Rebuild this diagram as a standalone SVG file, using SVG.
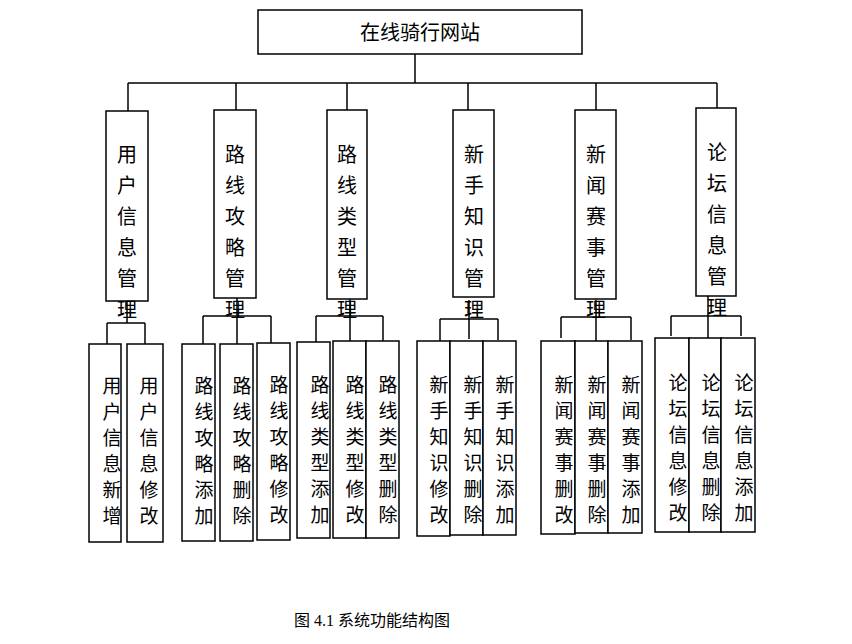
<svg xmlns="http://www.w3.org/2000/svg" width="852" height="644" viewBox="0 0 852 644">
<style>
rect{fill:#fff;stroke:#000;stroke-width:1.5}
.c line{stroke:#000;stroke-width:1.5}
text{font-family:"Liberation Serif","Noto Sans CJK SC",serif;fill:#000;text-anchor:middle}
.m{font-size:20px}
.l{font-size:19px}
</style>
<rect width="852" height="644" style="fill:#fff;stroke:none"/>
<g class="c">
<line x1="415" y1="54" x2="415" y2="83"/>
<line x1="128" y1="83" x2="717" y2="83"/>
<line x1="128" y1="83" x2="128" y2="111"/>
<line x1="236" y1="83" x2="236" y2="110"/>
<line x1="347" y1="83" x2="347" y2="110"/>
<line x1="468" y1="83" x2="468" y2="110"/>
<line x1="596" y1="83" x2="596" y2="110"/>
<line x1="717" y1="83" x2="717" y2="108"/>
<line x1="127" y1="301" x2="127" y2="323"/><line x1="107" y1="323" x2="145" y2="323"/>
<line x1="107" y1="323" x2="107" y2="344"/><line x1="145" y1="323" x2="145" y2="344"/>
<line x1="237" y1="298" x2="237" y2="344"/><line x1="203" y1="316" x2="271" y2="316"/>
<line x1="203" y1="316" x2="203" y2="344"/><line x1="271" y1="316" x2="271" y2="343"/>
<line x1="350" y1="299" x2="350" y2="341"/><line x1="316" y1="316" x2="383" y2="316"/>
<line x1="316" y1="316" x2="316" y2="342"/><line x1="383" y1="316" x2="383" y2="341"/>
<line x1="469" y1="300" x2="469" y2="339"/><line x1="440" y1="319" x2="498" y2="319"/>
<line x1="440" y1="319" x2="440" y2="341"/><line x1="498" y1="319" x2="498" y2="340"/>
<line x1="596" y1="300" x2="596" y2="341"/><line x1="561" y1="317" x2="631" y2="317"/>
<line x1="561" y1="317" x2="561" y2="338"/><line x1="631" y1="317" x2="631" y2="340"/>
<line x1="708" y1="296" x2="708" y2="338"/><line x1="671" y1="316" x2="741" y2="316"/>
<line x1="671" y1="316" x2="671" y2="336"/><line x1="741" y1="316" x2="741" y2="336"/>
</g>
<g id="root"><rect x="258" y="10" width="324" height="44"/><text x="420" y="40" class="m">在线骑行网站</text></g>
<g id="n1"><rect x="106" y="111" width="42" height="190"/><text class="m" x="127" y="162"><tspan x="127">用</tspan><tspan x="127" dy="31">户</tspan><tspan x="127" dy="31">信</tspan><tspan x="127" dy="31">息</tspan><tspan x="127" dy="31">管</tspan><tspan x="127" dy="31">理</tspan></text></g>
<g id="n2"><rect x="214" y="110" width="42" height="188"/><text class="m" x="235" y="162"><tspan x="235">路</tspan><tspan x="235" dy="31">线</tspan><tspan x="235" dy="31">攻</tspan><tspan x="235" dy="31">略</tspan><tspan x="235" dy="31">管</tspan><tspan x="235" dy="31">理</tspan></text></g>
<g id="n3"><rect x="327" y="110" width="40" height="189"/><text class="m" x="347" y="162"><tspan x="347">路</tspan><tspan x="347" dy="31">线</tspan><tspan x="347" dy="31">类</tspan><tspan x="347" dy="31">型</tspan><tspan x="347" dy="31">管</tspan><tspan x="347" dy="31">理</tspan></text></g>
<g id="n4"><rect x="453" y="110" width="41" height="187"/><text class="m" x="474" y="162"><tspan x="474">新</tspan><tspan x="474" dy="31">手</tspan><tspan x="474" dy="31">知</tspan><tspan x="474" dy="31">识</tspan><tspan x="474" dy="31">管</tspan><tspan x="474" dy="31">理</tspan></text></g>
<g id="n5"><rect x="575" y="110" width="41" height="189"/><text class="m" x="596" y="162"><tspan x="596">新</tspan><tspan x="596" dy="31">闻</tspan><tspan x="596" dy="31">赛</tspan><tspan x="596" dy="31">事</tspan><tspan x="596" dy="31">管</tspan><tspan x="596" dy="31">理</tspan></text></g>
<g id="n6"><rect x="696" y="108" width="40" height="188"/><text class="m" x="717" y="160"><tspan x="717">论</tspan><tspan x="717" dy="31">坛</tspan><tspan x="717" dy="31">信</tspan><tspan x="717" dy="31">息</tspan><tspan x="717" dy="31">管</tspan><tspan x="717" dy="31">理</tspan></text></g>
<g id="l1"><rect x="89" y="344" width="32" height="198"/><text class="l" x="112" y="393"><tspan x="112">用</tspan><tspan x="112" dy="26">户</tspan><tspan x="112" dy="26">信</tspan><tspan x="112" dy="26">息</tspan><tspan x="112" dy="26">新</tspan><tspan x="112" dy="26">增</tspan></text></g>
<g id="l2"><rect x="127" y="344" width="36" height="198"/><text class="l" x="149" y="393"><tspan x="149">用</tspan><tspan x="149" dy="26">户</tspan><tspan x="149" dy="26">信</tspan><tspan x="149" dy="26">息</tspan><tspan x="149" dy="26">修</tspan><tspan x="149" dy="26">改</tspan></text></g>
<g id="l3"><rect x="182" y="344" width="33" height="197"/><text class="l" x="204" y="393"><tspan x="204">路</tspan><tspan x="204" dy="26">线</tspan><tspan x="204" dy="26">攻</tspan><tspan x="204" dy="26">略</tspan><tspan x="204" dy="26">添</tspan><tspan x="204" dy="26">加</tspan></text></g>
<g id="l4"><rect x="220" y="344" width="33" height="197"/><text class="l" x="242" y="393"><tspan x="242">路</tspan><tspan x="242" dy="26">线</tspan><tspan x="242" dy="26">攻</tspan><tspan x="242" dy="26">略</tspan><tspan x="242" dy="26">删</tspan><tspan x="242" dy="26">除</tspan></text></g>
<g id="l5"><rect x="257" y="343" width="33" height="197"/><text class="l" x="279" y="392"><tspan x="279">路</tspan><tspan x="279" dy="26">线</tspan><tspan x="279" dy="26">攻</tspan><tspan x="279" dy="26">略</tspan><tspan x="279" dy="26">修</tspan><tspan x="279" dy="26">改</tspan></text></g>
<g id="l6"><rect x="297" y="342" width="33" height="196"/><text class="l" x="320" y="392"><tspan x="320">路</tspan><tspan x="320" dy="26">线</tspan><tspan x="320" dy="26">类</tspan><tspan x="320" dy="26">型</tspan><tspan x="320" dy="26">添</tspan><tspan x="320" dy="26">加</tspan></text></g>
<g id="l7"><rect x="333" y="341" width="33" height="197"/><text class="l" x="355" y="392"><tspan x="355">路</tspan><tspan x="355" dy="26">线</tspan><tspan x="355" dy="26">类</tspan><tspan x="355" dy="26">型</tspan><tspan x="355" dy="26">修</tspan><tspan x="355" dy="26">改</tspan></text></g>
<g id="l8"><rect x="366" y="341" width="33" height="197"/><text class="l" x="388" y="392"><tspan x="388">路</tspan><tspan x="388" dy="26">线</tspan><tspan x="388" dy="26">类</tspan><tspan x="388" dy="26">型</tspan><tspan x="388" dy="26">删</tspan><tspan x="388" dy="26">除</tspan></text></g>
<g id="l9"><rect x="417" y="341" width="33" height="195"/><text class="l" x="439" y="392"><tspan x="439">新</tspan><tspan x="439" dy="26">手</tspan><tspan x="439" dy="26">知</tspan><tspan x="439" dy="26">识</tspan><tspan x="439" dy="26">修</tspan><tspan x="439" dy="26">改</tspan></text></g>
<g id="l10"><rect x="450" y="341" width="33" height="194"/><text class="l" x="473" y="392"><tspan x="473">新</tspan><tspan x="473" dy="26">手</tspan><tspan x="473" dy="26">知</tspan><tspan x="473" dy="26">识</tspan><tspan x="473" dy="26">删</tspan><tspan x="473" dy="26">除</tspan></text></g>
<g id="l11"><rect x="483" y="341" width="33" height="194"/><text class="l" x="505" y="392"><tspan x="505">新</tspan><tspan x="505" dy="26">手</tspan><tspan x="505" dy="26">知</tspan><tspan x="505" dy="26">识</tspan><tspan x="505" dy="26">添</tspan><tspan x="505" dy="26">加</tspan></text></g>
<g id="l12"><rect x="541" y="341" width="34" height="193"/><text class="l" x="564" y="392"><tspan x="564">新</tspan><tspan x="564" dy="26">闻</tspan><tspan x="564" dy="26">赛</tspan><tspan x="564" dy="26">事</tspan><tspan x="564" dy="26">删</tspan><tspan x="564" dy="26">改</tspan></text></g>
<g id="l13"><rect x="575" y="341" width="33" height="192"/><text class="l" x="597" y="392"><tspan x="597">新</tspan><tspan x="597" dy="26">闻</tspan><tspan x="597" dy="26">赛</tspan><tspan x="597" dy="26">事</tspan><tspan x="597" dy="26">删</tspan><tspan x="597" dy="26">除</tspan></text></g>
<g id="l14"><rect x="608" y="341" width="34" height="192"/><text class="l" x="631" y="392"><tspan x="631">新</tspan><tspan x="631" dy="26">闻</tspan><tspan x="631" dy="26">赛</tspan><tspan x="631" dy="26">事</tspan><tspan x="631" dy="26">添</tspan><tspan x="631" dy="26">加</tspan></text></g>
<g id="l15"><rect x="655" y="338" width="34" height="194"/><text class="l" x="678" y="390"><tspan x="678">论</tspan><tspan x="678" dy="26">坛</tspan><tspan x="678" dy="26">信</tspan><tspan x="678" dy="26">息</tspan><tspan x="678" dy="26">修</tspan><tspan x="678" dy="26">改</tspan></text></g>
<g id="l16"><rect x="689" y="338" width="32" height="194"/><text class="l" x="711" y="390"><tspan x="711">论</tspan><tspan x="711" dy="26">坛</tspan><tspan x="711" dy="26">信</tspan><tspan x="711" dy="26">息</tspan><tspan x="711" dy="26">删</tspan><tspan x="711" dy="26">除</tspan></text></g>
<g id="l17"><rect x="721" y="338" width="34" height="194"/><text class="l" x="744" y="390"><tspan x="744">论</tspan><tspan x="744" dy="26">坛</tspan><tspan x="744" dy="26">信</tspan><tspan x="744" dy="26">息</tspan><tspan x="744" dy="26">添</tspan><tspan x="744" dy="26">加</tspan></text></g>
<text x="372" y="626" style="font-size:16px">图 4.1  系统功能结构图</text>
</svg>
